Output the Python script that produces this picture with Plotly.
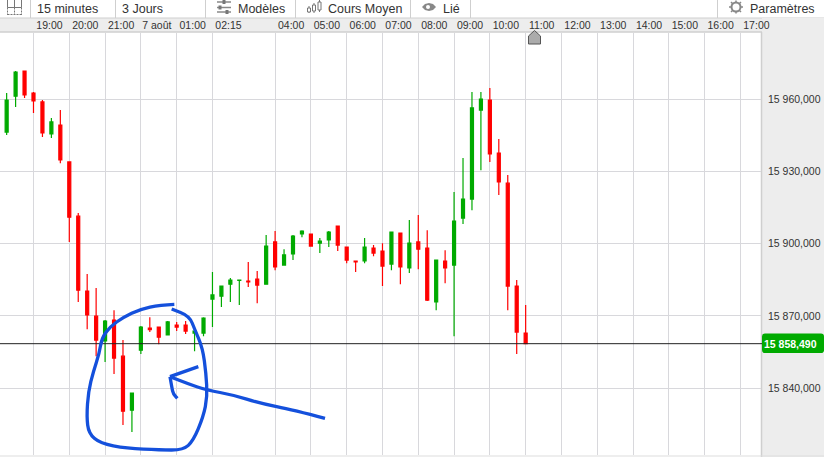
import plotly.graph_objects as go

W, H = 824, 457
L, R, T, B = 0, 63, 33, 2

# ---- data ----
idx = list(range(60))
opens = [15957.1,15946.3,15961.2,15971.6,15962.5,15958.8,15945.5,15949.2,15933.9,15911.4,
         15880.3,15869.9,15859.6,15868.3,15853.3,15830.9,15855.8,15865.0,15865.4,15862.1,
         15866.2,15866.2,15862.9,15862.9,15877.0,15878.2,15883.2,15884.7,15884.5,15885.3,
         15883.2,15900.7,15891.1,15895.7,15904.0,15904.0,15900.2,15901.5,15907.3,15898.6,
         15892.8,15892.8,15898.2,15896.9,15891.5,15904.4,15889.9,15900.7,15898.2,15875.8,
         15892.8,15891.1,15910.6,15918.5,15955.4,15959.6,15937.6,15925.1,15882.4,15862.9]
highs = [15957.1,15962.5,15971.6,15971.6,15962.9,15959.6,15952.1,15955.4,15933.9,15912.7,
         15887.4,15881.6,15868.3,15872.4,15860.0,15838.0,15865.8,15869.5,15865.4,15867.9,
         15867.5,15867.9,15863.7,15869.5,15888.2,15882.4,15885.7,15884.9,15892.4,15888.6,
         15903.6,15905.2,15897.7,15903.6,15905.6,15904.0,15902.3,15905.2,15907.3,15898.6,
         15892.8,15902.3,15899.4,15900.2,15904.8,15904.4,15909.8,15911.9,15905.6,15893.2,
         15897.3,15921.4,15935.5,15962.9,15962.9,15964.6,15943.4,15928.5,15884.9,15874.5]
lows = [15946.7,15945.1,15956.7,15960.4,15954.2,15944.2,15943.8,15933.4,15900.7,15875.8,
        15864.5,15853.3,15850.9,15845.9,15824.7,15821.8,15854.2,15863.3,15858.3,15862.1,
        15863.7,15862.5,15855.4,15861.6,15865.4,15873.7,15875.8,15874.5,15882.0,15875.3,
        15883.2,15889.0,15891.1,15893.2,15902.7,15899.0,15896.1,15898.6,15896.9,15891.9,
        15888.2,15891.9,15894.8,15882.4,15889.0,15883.2,15887.8,15889.4,15876.2,15872.4,
        15883.6,15861.6,15908.1,15913.9,15930.5,15933.9,15920.2,15872.4,15854.2,15858.3]
closes = [15946.7,15959.6,15971.2,15961.7,15959.2,15945.9,15950.5,15934.7,15911.0,15880.7,
          15870.4,15860.0,15867.9,15852.5,15830.5,15838.0,15865.4,15864.3,15861.2,15867.5,
          15865.4,15863.7,15863.7,15869.1,15878.7,15882.4,15884.9,15884.9,15884.1,15882.8,
          15899.0,15890.3,15895.3,15903.1,15905.2,15899.0,15901.1,15904.8,15899.4,15893.2,
          15892.4,15898.6,15896.1,15890.7,15904.8,15890.3,15900.2,15897.7,15876.6,15893.2,
          15889.9,15909.4,15918.5,15956.3,15960.0,15937.2,15925.6,15882.4,15863.3,15858.49]
last_price = 15858.49
last_label = "15 858,490"

x_tick_pos = [4,8,12,16,20,24,31,35,39,43,47,51,55,59,63,67,71,75,79,83]
x_tick_lab = ["19:00","20:00","21:00","7 août","01:00","02:15","04:00","05:00","06:00","07:00",
              "08:00","09:00","10:00","11:00","12:00","13:00","14:00","15:00","16:00","17:00"]
y_tick_pos = [15840,15870,15900,15930,15960]
y_tick_lab = ["15 840,000","15 870,000","15 900,000","15 930,000","15 960,000"]

FONT = "Liberation Sans"
TXT = "#333333"
GRID = "#D8D8DC"
GREEN = "#00AA00"
RED = "#FF0000"
BLUE = "#1450DC"
STRIP = "#EDEDED"
EDGE = "#CFCFCF"

# ---- helpers: window pixels to paper coordinates (for chrome and the hand drawing only) ----
def px(x): return (x - L) / (W - L - R)
def py(y): return 1 - (y - T) / (H - T - B)
def P(x, y): return f"{px(x):.5f},{py(y):.5f}"

def rect(x0, y0, x1, y1, fill, line=None, layer="below", lw=1):
    return dict(type="rect", xref="paper", yref="paper", x0=px(x0), x1=px(x1), y0=py(y0), y1=py(y1),
                fillcolor=fill, line=dict(color=line or fill, width=lw if line else 0), layer=layer)

def seg(x0, y0, x1, y1, color, lw=1, dash="solid", layer="above"):
    return dict(type="line", xref="paper", yref="paper", x0=px(x0), x1=px(x1), y0=py(y0), y1=py(y1),
                line=dict(color=color, width=lw, dash=dash), layer=layer)

def path(pts, color=None, lw=1, fill=None, close=False, layer="above"):
    d = "M" + " L".join(P(*p) for p in pts) + (" Z" if close else "")
    return dict(type="path", xref="paper", yref="paper", path=d, layer=layer,
                line=dict(color=color or "rgba(0,0,0,0)", width=lw), fillcolor=fill or "rgba(0,0,0,0)")

def smooth(pts, color, lw):
    d = "M" + P(*pts[0])
    for a, b in zip(pts[1:-1], pts[2:]):
        m = ((a[0] + b[0]) / 2, (a[1] + b[1]) / 2)
        d += f" Q{P(*a)} {P(*m)}"
    d += " L" + P(*pts[-1])
    return dict(type="path", xref="paper", yref="paper", path=d, layer="above",
                line=dict(color=color, width=lw), fillcolor="rgba(0,0,0,0)")

def z3(points):
    return [(60 + a / 3, 200 + b / 3) for a, b in points]

shapes = [
    rect(0, 0, W, 18, "#FFFFFF"),
    rect(0, 18, W, 32, STRIP),
    seg(0, 18, W, 18, EDGE, layer="below"),
    seg(0, 32, W, 32, EDGE, lw=1.5, layer="below"),
    rect(762, 18, W, H, STRIP),
    seg(761.5, 32, 761.5, H, EDGE, lw=1.5, layer="below"),
    seg(0, 456, W, 456, "#DDDDDD", layer="below"),
]
for sx in [30.5, 115.5, 205.5, 295.5, 410.5, 470.5, 717.5]:
    shapes.append(seg(sx, 0, sx, 18, EDGE, layer="below"))

# grid icon
ic = "#777777"
for a, b, c, d in [(7.5,0,7.5,7.5),(21.5,0,21.5,7.5),(14.5,0,14.5,7.5),(7.5,7.5,21.5,7.5)]:
    shapes.append(seg(a, b, c, d, ic))
for a, b, c, d in [(7.5,7.5,7.5,15),(21.5,7.5,21.5,15),(14.5,7.5,14.5,15),(7.5,14.5,21.5,14.5)]:
    shapes.append(seg(a, b, c, d, ic, dash="2px,1px"))
# sliders icon
for yy, kx in [(2, 224), (7.5, 220), (12, 227)]:
    shapes.append(seg(217, yy, 231, yy, "#888888", lw=1.5))
    shapes.append(rect(kx - 1.5, yy - 2, kx + 1.5, yy + 2, "#777777", layer="above"))
# candle icon
shapes.append(seg(309, 6, 309, 13, ic)); shapes.append(rect(307.5, 8, 310.5, 12, "#FFFFFF", ic, "above"))
shapes.append(seg(314, 3, 314, 13, ic)); shapes.append(rect(312.5, 5, 315.5, 11, "#FFFFFF", ic, "above"))
shapes.append(seg(319.5, 0, 319.5, 12, ic)); shapes.append(rect(318, 2, 321, 10, "#FFFFFF", ic, "above"))
# eye icon
shapes.append(path([(422,7),(425,4),(429,3),(433,4),(436,7),(433,10),(429,11),(425,10)], fill="#888888", close=True))
shapes.append(dict(type="circle", xref="paper", yref="paper", x0=px(426), x1=px(430), y0=py(5), y1=py(9),
                   fillcolor="#FFFFFF", line=dict(width=0), layer="above"))
# gear icon
shapes.append(dict(type="circle", xref="paper", yref="paper", x0=px(731.5), x1=px(740.5), y0=py(2.5), y1=py(11.5),
                   fillcolor="#FFFFFF", line=dict(color="#888888", width=2), layer="above"))
for a, b, c, d in [(736,0.5,736,2.5),(736,11.5,736,13.5),(729,7,731.5,7),(740.5,7,743,7),
                   (731,2,732.5,3.5),(739.5,10.5,741,12),(731,12,732.5,10.5),(739.5,3.5,741,2)]:
    shapes.append(seg(a, b, c, d, "#888888", lw=1.5))
# time cursor
shapes.append(path([(528.5,44),(528.5,36),(534.5,30.5),(540.5,36),(540.5,44)], color="#555555", lw=1,
                   fill="#ABABAB", close=True))
# last price line and tag
shapes.append(dict(type="line", xref="paper", yref="y", x0=0, x1=px(763), y0=last_price, y1=last_price,
                   line=dict(color="#222222", width=1), layer="above"))
tag = "M" + P(765, 333.5) + " L" + P(821, 333.5) + " Q" + P(824, 333.5) + " " + P(824, 336.5) + " L" + P(824, 350) \
      + " Q" + P(824, 353) + " " + P(821, 353) + " L" + P(765, 353) + " Q" + P(762, 353) + " " + P(762, 350) \
      + " L" + P(762, 336.5) + " Q" + P(762, 333.5) + " " + P(765, 333.5) + " Z"
shapes.append(dict(type="path", xref="paper", yref="paper", path=tag, fillcolor=GREEN, line=dict(width=0), layer="above"))

# hand drawing
shapes.append(smooth(z3([(343,313),(300,315),(240,328),(190,352),(150,380),(125,415),(118,460),(100,515),(85,575),
                         (80,650),(86,700),(120,730),(200,745),(300,750),(370,750),(400,722),(430,650),(442,590),
                         (438,520),(428,445),(405,390),(388,348),(335,327)]), BLUE, 3.3))
shapes.append(smooth(z3([(795,655),(700,630),(600,610),(520,585),(440,570),(385,552),(330,530)]), BLUE, 3.3))
shapes.append(path(z3([(330,530),(415,500)]), BLUE, 3.3))
shapes.append(smooth(z3([(330,530),(336,565),(340,582),(352,595)]), BLUE, 3.3))

def label(x, y, text, size=12.5, color=TXT, bold=False):
    return dict(xref="paper", yref="paper", x=px(x), y=py(y), xanchor="left", yanchor="middle", showarrow=False,
                text=f"<b>{text}</b>" if bold else text, font=dict(family=FONT, size=size, color=color))

annotations = [
    label(35, 9, "15 minutes"),
    label(120, 9, "3 Jours"),
    label(236, 9, "Modèles"),
    label(326, 9, "Cours Moyen"),
    label(441, 9, "Lié"),
    label(748, 9, "Paramètres"),
    label(762, 344, last_label, size=10.5, color="#FFFFFF", bold=True),
]

fig = go.Figure(go.Candlestick(
    x=idx, open=opens, high=highs, low=lows, close=closes,
    increasing=dict(line=dict(color=GREEN, width=1.2), fillcolor=GREEN),
    decreasing=dict(line=dict(color=RED, width=1.2), fillcolor=RED),
    whiskerwidth=0, hoverinfo="skip", showlegend=False,
))

fig.update_layout(
    width=W, height=H, autosize=False,
    margin=dict(l=L, r=R, t=T, b=B, pad=0),
    paper_bgcolor="#FFFFFF", plot_bgcolor="#FFFFFF",
    boxgap=0.52, showlegend=False,
    font=dict(family=FONT, size=10.5, color=TXT),
    shapes=shapes, annotations=annotations,
    xaxis=dict(range=[0.257, 85.3], side="top", tickmode="array", tickvals=x_tick_pos, ticktext=x_tick_lab,
               showgrid=True, gridcolor=GRID, gridwidth=1, zeroline=False, showline=False, ticks="",
               rangeslider=dict(visible=False), ticklabelshift=16, ticklabelstandoff=1,
               tickangle=0, tickfont=dict(family=FONT, size=10.5, color=TXT), automargin=False, fixedrange=True),
    yaxis=dict(range=[15812.3, 15987.4], side="right", tickmode="array", tickvals=y_tick_pos, ticktext=y_tick_lab,
               showgrid=True, gridcolor=GRID, gridwidth=1, zeroline=False, showline=False, ticks="",
               ticklabelstandoff=6, tickfont=dict(family=FONT, size=10.5, color=TXT), automargin=False, fixedrange=True),
)

fig.write_html("out.html", config=dict(displayModeBar=False),
               post_script="document.body.style.margin='0';document.documentElement.style.overflow='hidden';")
